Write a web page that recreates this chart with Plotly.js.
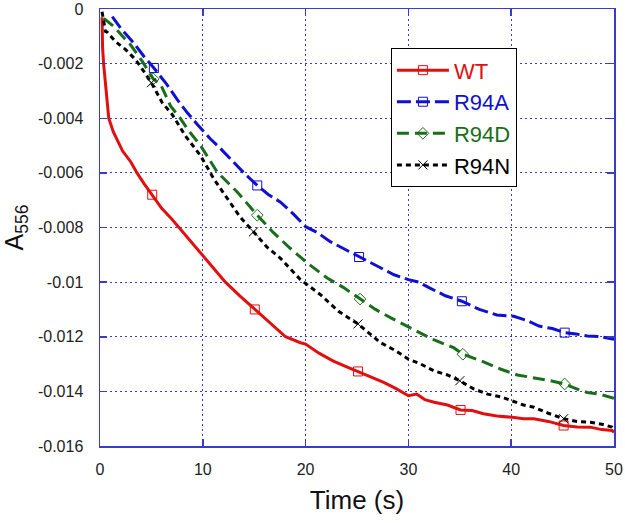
<!DOCTYPE html>
<html>
<head>
<meta charset="utf-8">
<script src="https://cdn.plot.ly/plotly-3.0.1.min.js"></script>
<style>html,body{margin:0;padding:0;background:#fff;}#chart{width:625px;height:523px;}</style>
</head>
<body>
<div id="chart"></div>
<script>
// ---- data ----
const seriesNames = ["WT", "R94A", "R94D", "R94N"];

const wtT = [0.2, 0.25, 0.35, 0.5, 0.7, 0.85, 1.3, 2.2, 3.0, 3.6, 4.3, 5.08, 6.0, 7.0, 7.67, 8.8, 9.94, 11.0, 12.2, 13.6, 15.06, 16.5, 18.05, 19.5, 20.0, 21.3, 22.7, 24.0, 25.1, 26.4, 27.6, 28.8, 30.0, 30.8, 31.6, 32.5, 33.8, 35.07, 36.2, 37.3, 38.6, 40.1, 41.2, 42.2, 43.6, 45.1, 46.4, 47.7, 48.8, 49.8, 50.0];
const wtV = [-0.0003, -0.0014, -0.0020, -0.0027, -0.0034, -0.0040, -0.0045, -0.0052, -0.0056, -0.0060, -0.0064, -0.0068, -0.0073, -0.0077, -0.0080, -0.0085, -0.0090, -0.0095, -0.0100, -0.0105, -0.0110, -0.0115, -0.0120, -0.01222, -0.01227, -0.0126, -0.01289, -0.0131, -0.01327, -0.0135, -0.01367, -0.0139, -0.01416, -0.0141, -0.0143, -0.0144, -0.0145, -0.01468, -0.0147, -0.01482, -0.0149, -0.01495, -0.0150, -0.0150, -0.0151, -0.01525, -0.0153, -0.01531, -0.0154, -0.01543, -0.0155];

const r94aT = [1.19, 2.0, 3.3, 4.26, 5.24, 6.5, 7.5, 8.5, 9.45, 10.75, 11.7, 12.7, 14.0, 15.3, 16.4, 17.56, 18.8, 20.0, 21.2, 22.4, 23.8, 25.2, 26.9, 28.6, 30.0, 31.0, 32.1, 33.6, 35.2, 36.9, 38.6, 40.25, 41.5, 42.7, 44.0, 45.2, 46.3, 47.4, 48.7, 50.0];
const r94aV = [-0.00028, -0.0007, -0.00125, -0.00173, -0.00216, -0.00276, -0.00331, -0.0038, -0.00422, -0.00476, -0.0051, -0.00549, -0.0060, -0.00646, -0.0068, -0.00707, -0.0075, -0.00797, -0.0082, -0.00852, -0.0088, -0.00908, -0.0094, -0.00973, -0.00991, -0.0100, -0.01022, -0.0105, -0.0107, -0.0110, -0.0112, -0.01125, -0.0114, -0.01161, -0.0117, -0.01185, -0.0119, -0.01197, -0.0120, -0.01209];

const r94dT = [0.37, 1.34, 2.2, 2.97, 4.1, 5.18, 5.9, 6.86, 7.8, 8.64, 9.78, 11.4, 13.35, 15.3, 16.9, 18.5, 20.2, 22.1, 23.7, 25.3, 26.8, 28.3, 30.5, 32.4, 34.4, 35.3, 37.2, 39.0, 40.6, 42.2, 43.7, 45.2, 46.3, 47.4, 48.6, 50.0];
const r94dV = [-0.00034, -0.00064, -0.0010, -0.00131, -0.00191, -0.00256, -0.00276, -0.00355, -0.0040, -0.00446, -0.0050, -0.00597, -0.0067, -0.00755, -0.0082, -0.00876, -0.00931, -0.00985, -0.0102, -0.01062, -0.0110, -0.01131, -0.01173, -0.0121, -0.0124, -0.01264, -0.0129, -0.01319, -0.0134, -0.01349, -0.0136, -0.01373, -0.0139, -0.01404, -0.0141, -0.01425];

const r94nT = [0.2, 0.53, 0.7, 1.34, 1.5, 2.5, 3.45, 4.26, 5.0, 6.05, 7.0, 8.3, 9.78, 11.07, 12.37, 13.6, 14.93, 16.2, 17.56, 19.5, 21.45, 23.2, 25.1, 27.3, 28.7, 30.0, 31.2, 32.5, 33.8, 35.0, 36.3, 37.7, 39.0, 40.1, 41.2, 42.2, 43.6, 45.1, 46.4, 47.7, 48.8, 49.8, 50.0];
const r94nV = [-0.0001, -0.00082, -0.00085, -0.00113, -0.00119, -0.00149, -0.00185, -0.00228, -0.0027, -0.00343, -0.00385, -0.00464, -0.00537, -0.00622, -0.00695, -0.0076, -0.00816, -0.0087, -0.00913, -0.00991, -0.01046, -0.01107, -0.01153, -0.01222, -0.0125, -0.01282, -0.0130, -0.01325, -0.0134, -0.01361, -0.0139, -0.0141, -0.0142, -0.01434, -0.0145, -0.01458, -0.0148, -0.0150, -0.0151, -0.01513, -0.0152, -0.01531, -0.0154];

// marker positions (every 10 s)
const wtMkT = [5.08, 15.06, 25.1, 35.07, 45.1];
const wtMkV = [-0.0068, -0.0110, -0.01327, -0.01468, -0.01525];
const r94aMkT = [5.24, 15.3, 25.2, 35.2, 45.2];
const r94aMkV = [-0.00216, -0.00646, -0.00908, -0.0107, -0.01185];
const r94dMkT = [5.18, 15.3, 25.3, 35.3, 45.2];
const r94dMkV = [-0.00256, -0.00755, -0.01062, -0.01264, -0.01373];
const r94nMkT = [5.0, 14.93, 25.1, 35.0, 45.1];
const r94nMkV = [-0.0027, -0.00816, -0.01153, -0.01361, -0.0150];

const xTickVals = [0, 10, 20, 30, 40, 50];
const xTickText = ["0", "10", "20", "30", "40", "50"];
const yTickVals = [0, -0.002, -0.004, -0.006, -0.008, -0.010, -0.012, -0.014, -0.016];
const yTickText = ["0", "-0.002", "-0.004", "-0.006", "-0.008", "-0.01", "-0.012", "-0.014", "-0.016"];

// ---- styling ----
const colors = ["#e01010", "#1010d0", "#1a6e1a", "#000000"];
const dashes = ["solid", "14px,5px", "12px,6px", "5px,4px"];
const symbols = ["square-open", "square-open", "diamond-open", "x-thin-open"];
const curveT = [wtT, r94aT, r94dT, r94nT];
const curveV = [wtV, r94aV, r94dV, r94nV];
const mkT = [wtMkT, r94aMkT, r94dMkT, r94nMkT];
const mkV = [wtMkV, r94aMkV, r94dMkV, r94nMkV];

const traces = [];
for (let i = 0; i < 4; i++) {
  traces.push({
    x: curveT[i], y: curveV[i], type: "scatter", mode: "lines",
    line: {color: colors[i], width: 3, dash: dashes[i]},
    showlegend: false, hoverinfo: "skip"
  });
}
for (let i = 0; i < 4; i++) {
  traces.push({
    x: mkT[i], y: mkV[i], type: "scatter", mode: "markers",
    marker: {symbol: symbols[i], size: 9, color: colors[i], line: {width: 1, color: colors[i]}},
    showlegend: false, hoverinfo: "skip"
  });
}
// legend entries
for (let i = 0; i < 4; i++) {
  traces.push({
    x: [null], y: [null], type: "scatter", mode: "lines+markers",
    name: '<span style="color:' + colors[i] + ';font-size:22px">' + seriesNames[i] + '</span>',
    legendgroup: "g" + i,
    line: {color: colors[i], width: 3, dash: dashes[i]},
    marker: {symbol: symbols[i], size: 9, color: colors[i], line: {width: 1, color: colors[i]}}
  });
}

const axisBlue = "#3a3acc";
const layout = {
  width: 625, height: 523,
  margin: {l: 100, r: 11, t: 9, b: 77},
  paper_bgcolor: "#ffffff", plot_bgcolor: "#ffffff",
  font: {family: "Liberation Sans, Arial, sans-serif", color: "#222222", size: 16},
  xaxis: {
    range: [0, 50], tickvals: xTickVals, ticktext: xTickText,
    showline: true, linecolor: axisBlue, linewidth: 1.5, mirror: "ticks",
    ticks: "inside", ticklen: 7, tickcolor: axisBlue, tickwidth: 1.5,
    showgrid: true, gridcolor: axisBlue, gridwidth: 1, griddash: "2px,3px",
    zeroline: false, tickfont: {size: 16}, ticklabelstandoff: 8,
    ticklabeloverflow: "allow",
    title: {text: "Time (s)", font: {size: 26, color: "#111"}, standoff: 14}
  },
  yaxis: {
    range: [-0.016, 0], tickvals: yTickVals, ticktext: yTickText,
    showline: true, linecolor: axisBlue, linewidth: 1.5, mirror: "ticks",
    ticks: "inside", ticklen: 7, tickcolor: axisBlue, tickwidth: 1.5,
    showgrid: true, gridcolor: axisBlue, gridwidth: 1, griddash: "2px,3px",
    zeroline: false, tickfont: {size: 16}, ticklabelstandoff: 12,
    ticklabeloverflow: "allow",
    title: {text: "A<sub>556</sub>", font: {size: 25, color: "#111"}, standoff: 10}
  },
  legend: {
    x: 0.566, y: 0.91, xanchor: "left", yanchor: "top",
    bgcolor: "#ffffff", bordercolor: "#000000", borderwidth: 1,
    font: {size: 22, family: "Liberation Sans, Arial, sans-serif"},
    itemwidth: 52,
    traceorder: "grouped", tracegroupgap: 0
  },
  showlegend: true
};

Plotly.newPlot("chart", traces, layout, {displayModeBar: false, staticPlot: true});
</script>
</body>
</html>
